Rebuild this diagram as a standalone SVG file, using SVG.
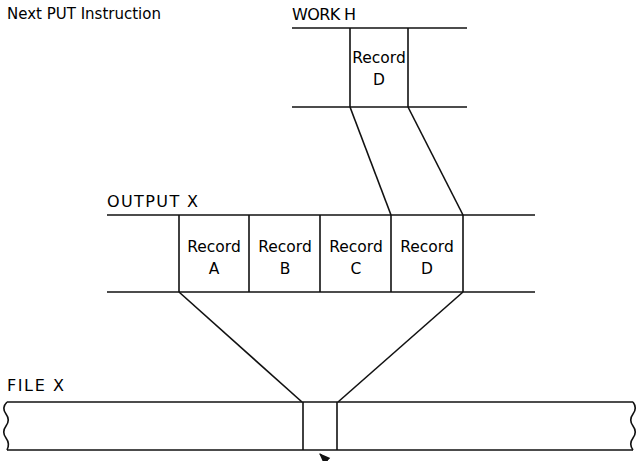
<svg xmlns="http://www.w3.org/2000/svg" width="637" height="461" viewBox="0 0 637 461">
<style>
  text { font-family: "DejaVu Sans", "Liberation Sans", sans-serif; font-size: 15px; fill: #000; }
  .cap { font-size: 16px; }
  .rec { font-size: 15.5px; text-anchor: middle; }
  line, path { stroke: #111; stroke-width: 1.6; fill: none; }
</style>
<defs>
  <marker id="ah" viewBox="0 0 10 10" refX="9" refY="5" markerWidth="7" markerHeight="7" orient="auto">
    <path d="M0,1 L10,5 L0,9 Z" style="fill:#111;stroke:none"/>
  </marker>
</defs>
<rect width="637" height="461" fill="#fff"/>

<g id="next-put">
  <text x="7" y="19">Next PUT Instruction</text>
</g>

<g id="work-h">
  <text class="cap" x="292" y="20" textLength="64" lengthAdjust="spacing">WORK H</text>
  <line x1="292" y1="28" x2="467" y2="28"/>
  <line x1="292" y1="107" x2="467" y2="107"/>
  <line x1="350" y1="28" x2="350" y2="107"/>
  <line x1="408" y1="28" x2="408" y2="107"/>
  <text class="rec" x="379" y="63">Record</text>
  <text class="rec" x="379" y="85">D</text>
</g>

<g id="output-x">
  <text class="cap" x="107" y="207" textLength="91" lengthAdjust="spacing">OUTPUT X</text>
  <line x1="107" y1="215" x2="535" y2="215"/>
  <line x1="107" y1="292" x2="535" y2="292"/>
  <line x1="179" y1="215" x2="179" y2="292"/>
  <line x1="249" y1="215" x2="249" y2="292"/>
  <line x1="320" y1="215" x2="320" y2="292"/>
  <line x1="391" y1="215" x2="391" y2="292"/>
  <line x1="463" y1="215" x2="463" y2="292"/>
  <text class="rec" x="214" y="252">Record</text>
  <text class="rec" x="214" y="274">A</text>
  <text class="rec" x="285" y="252">Record</text>
  <text class="rec" x="285" y="274">B</text>
  <text class="rec" x="356" y="252">Record</text>
  <text class="rec" x="356" y="274">C</text>
  <text class="rec" x="427" y="252">Record</text>
  <text class="rec" x="427" y="274">D</text>
</g>

<g id="file-x">
  <text class="cap" x="7" y="391" textLength="57" lengthAdjust="spacing">FILE X</text>
  <line x1="7" y1="402" x2="633" y2="402"/>
  <line x1="7" y1="450" x2="633" y2="450"/>
  <path d="M7,402 C3,406 3,410 6,414 C9,418 9,422 6,426 C3,430 3,434 6,438 C9,442 9,446 7,450"/>
  <path d="M633,402 C636,406 636,410 633,414 C630,418 630,422 633,426 C636,430 636,434 633,438 C630,442 630,446 633,450"/>
  <line x1="303" y1="402" x2="303" y2="450"/>
  <line x1="337" y1="402" x2="337" y2="450"/>
</g>

<g id="connectors">
  <line x1="350" y1="107" x2="391" y2="215"/>
  <line x1="408" y1="107" x2="463" y2="215"/>
  <line x1="179" y1="292" x2="302" y2="402"/>
  <line x1="463" y1="292" x2="338" y2="402"/>
  <line x1="332" y1="466" x2="320" y2="454" marker-end="url(#ah)"/>
</g>
</svg>
